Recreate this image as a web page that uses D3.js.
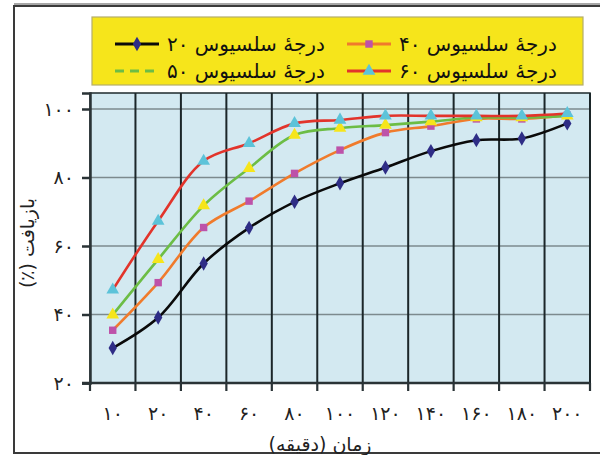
<!DOCTYPE html>
<html>
<head>
<meta charset="utf-8">
<script src="https://cdn.jsdelivr.net/npm/d3@7"></script>
<style>
  html, body { margin: 0; padding: 0; background: #ffffff; }
  svg { display: block; font-family: "DejaVu Sans", sans-serif; }
</style>
</head>
<body>
<svg id="chart" width="600" height="455"></svg>
<script>
// Time in minutes (category labels, Persian digits)
const categories = ["۱۰", "۲۰", "۴۰", "۶۰", "۸۰", "۱۰۰", "۱۲۰", "۱۴۰", "۱۶۰", "۱۸۰", "۲۰۰"];

// Recovery (%) at each temperature
const temp20 = [30.2, 39.1, 54.9, 65.3, 72.9, 78.3, 82.9, 87.7, 90.9, 91.4, 95.8];
const temp40 = [35.4, 49.3, 65.4, 73.1, 81.2, 88.0, 93.1, 95.0, 97.1, 97.1, 98.2];
const temp50 = [39.9, 56.1, 71.8, 82.7, 92.4, 94.4, 95.3, 96.3, 97.5, 97.5, 98.0];
const temp60 = [47.2, 67.3, 84.8, 90.0, 95.8, 96.8, 98.0, 98.0, 98.0, 98.0, 98.7];

const yTicks = [20, 40, 60, 80, 100];
const yTickLabels = ["۲۰", "۴۰", "۶۰", "۸۰", "۱۰۰"];

const legendLabels = ["درجهٔ سلسیوس ۲۰", "درجهٔ سلسیوس ۴۰", "درجهٔ سلسیوس ۵۰", "درجهٔ سلسیوس ۶۰"];
const xTitle = "زمان (دقیقه)";
const yTitle = "بازیافت (٪)";

const series = [
  { name: legendLabels[0], values: temp20, line: "#0a0a0a", fill: "#2e2d86", marker: "diamond", dash: null },
  { name: legendLabels[1], values: temp40, line: "#f07b2c", fill: "#bd52a9", marker: "square", dash: null },
  { name: legendLabels[2], values: temp50, line: "#6cbd45", fill: "#f6e51b", marker: "triangle", dash: "9,6" },
  { name: legendLabels[3], values: temp60, line: "#e2342b", fill: "#5cc3d9", marker: "triangle", dash: null }
];

const svg = d3.select("#chart");
const plot = { left: 90, right: 590, top: 93, bottom: 383 };

const x = d3.scaleBand().domain(categories).range([plot.left, plot.right]).padding(0);
const y = d3.scaleLinear().domain([20, 104.67]).range([plot.bottom, plot.top]);

// outer frame
svg.append("rect").attr("x", 14).attr("y", 6).attr("width", 600).attr("height", 447)
  .attr("fill", "#ffffff").attr("stroke", "#3a3a3a").attr("stroke-width", 2);
svg.append("line").attr("x1", 14).attr("x2", 600).attr("y1", 4).attr("y2", 4)
  .attr("stroke", "#8a8a8a").attr("stroke-width", 1.5);

// plot area
svg.append("rect").attr("x", plot.left).attr("y", plot.top)
  .attr("width", plot.right - plot.left).attr("height", plot.bottom - plot.top)
  .attr("fill", "#d3e9f1").attr("stroke", "#1e2a2c").attr("stroke-width", 1.5);

// horizontal gridlines
svg.append("g").selectAll("line").data(yTicks.slice(1)).join("line")
  .attr("x1", plot.left).attr("x2", plot.right)
  .attr("y1", d => y(d)).attr("y2", d => y(d))
  .attr("stroke", "#7c8a8e").attr("stroke-width", 1.6);

// vertical gridlines at category boundaries
const bounds = categories.map(c => x(c)).concat([plot.right]);
svg.append("g").selectAll("line").data(bounds.slice(1)).join("line")
  .attr("x1", d => d).attr("x2", d => d)
  .attr("y1", plot.top).attr("y2", plot.bottom)
  .attr("stroke", "#1b2629").attr("stroke-width", 2);

// y axis
const yAxis = d3.axisLeft(y).tickValues(yTicks).tickSize(8)
  .tickFormat((d, i) => yTickLabels[i]).tickPadding(8);
const gy = svg.append("g").attr("transform", `translate(${plot.left},0)`).call(yAxis);
gy.select(".domain").attr("stroke", "#2a3336").attr("stroke-width", 2.5);
gy.selectAll(".tick line").attr("stroke", "#2a3336").attr("stroke-width", 2.5);
gy.selectAll(".tick text").attr("fill", "#222").style("font-size", "19px")
  .style("font-family", "DejaVu Sans");

// x axis: ticks at band boundaries, labels at band centres
const gx = svg.append("g");
gx.append("line").attr("x1", plot.left - 8).attr("x2", plot.right)
  .attr("y1", plot.bottom).attr("y2", plot.bottom)
  .attr("stroke", "#2a3336").attr("stroke-width", 2.5);
gx.selectAll("line.tk").data(bounds).join("line").attr("class", "tk")
  .attr("x1", d => d).attr("x2", d => d)
  .attr("y1", plot.bottom).attr("y2", plot.bottom + 8)
  .attr("stroke", "#2a3336").attr("stroke-width", 2.2);
gx.selectAll("text").data(categories).join("text")
  .attr("x", d => x(d) + x.bandwidth() / 2).attr("y", 420)
  .attr("text-anchor", "middle").attr("fill", "#222")
  .style("font-size", "19px").text(d => d);

// axis titles
svg.append("text").attr("x", 320).attr("y", 451).attr("text-anchor", "middle")
  .attr("direction", "rtl").attr("fill", "#222").style("font-size", "19px").text(xTitle);
svg.append("text").attr("transform", "translate(34,243) rotate(-90)")
  .attr("text-anchor", "middle").attr("direction", "rtl")
  .attr("fill", "#222").style("font-size", "19px").text(yTitle);

// series lines
const cx = (d, i) => x(categories[i]) + x.bandwidth() / 2;
const line = d3.line().x(cx).y(d => y(d)).curve(d3.curveCatmullRom.alpha(0.5));

const symbolFor = m => m === "diamond" ? d3.symbolDiamond : m === "square" ? d3.symbolSquare : d3.symbolTriangle;
const symbolSize = m => m === "diamond" ? 60 : m === "square" ? 55 : 70;

series.forEach(s => {
  svg.append("path").datum(s.values).attr("d", line)
    .attr("fill", "none").attr("stroke", s.line).attr("stroke-width", 2.6);
});
series.forEach(s => {
  svg.append("g").selectAll("path").data(s.values).join("path")
    .attr("transform", (d, i) => `translate(${cx(d, i)},${y(d)})`)
    .attr("d", d3.symbol().type(symbolFor(s.marker)).size(symbolSize(s.marker)))
    .attr("fill", s.fill);
});

// legend
const lg = svg.append("g");
lg.append("rect").attr("x", 92).attr("y", 17).attr("width", 491).attr("height", 68)
  .attr("fill", "#f6e51b").attr("stroke", "#b5ad6a").attr("stroke-width", 1.2);

const legendPos = [
  { s: series[0], lx: 115, rowY: 44 },
  { s: series[1], lx: 347, rowY: 44 },
  { s: series[2], lx: 115, rowY: 71 },
  { s: series[3], lx: 347, rowY: 71 }
];
legendPos.forEach(p => {
  const g = lg.append("g");
  g.append("line").attr("x1", p.lx).attr("x2", p.lx + 44)
    .attr("y1", p.rowY).attr("y2", p.rowY)
    .attr("stroke", p.s.line).attr("stroke-width", 3)
    .attr("stroke-dasharray", p.s.dash);
  if (!p.s.dash) {
    g.append("path").attr("transform", `translate(${p.lx + 22},${p.rowY})`)
      .attr("d", d3.symbol().type(symbolFor(p.s.marker)).size(symbolSize(p.s.marker)))
      .attr("fill", p.s.fill);
  }
  g.append("text").attr("x", p.lx + 52).attr("y", p.rowY + 7)
    .attr("fill", "#111").style("font-size", "20px")
    .attr("direction", "rtl").attr("text-anchor", "end").text(p.s.name);
});
</script>
</body>
</html>
